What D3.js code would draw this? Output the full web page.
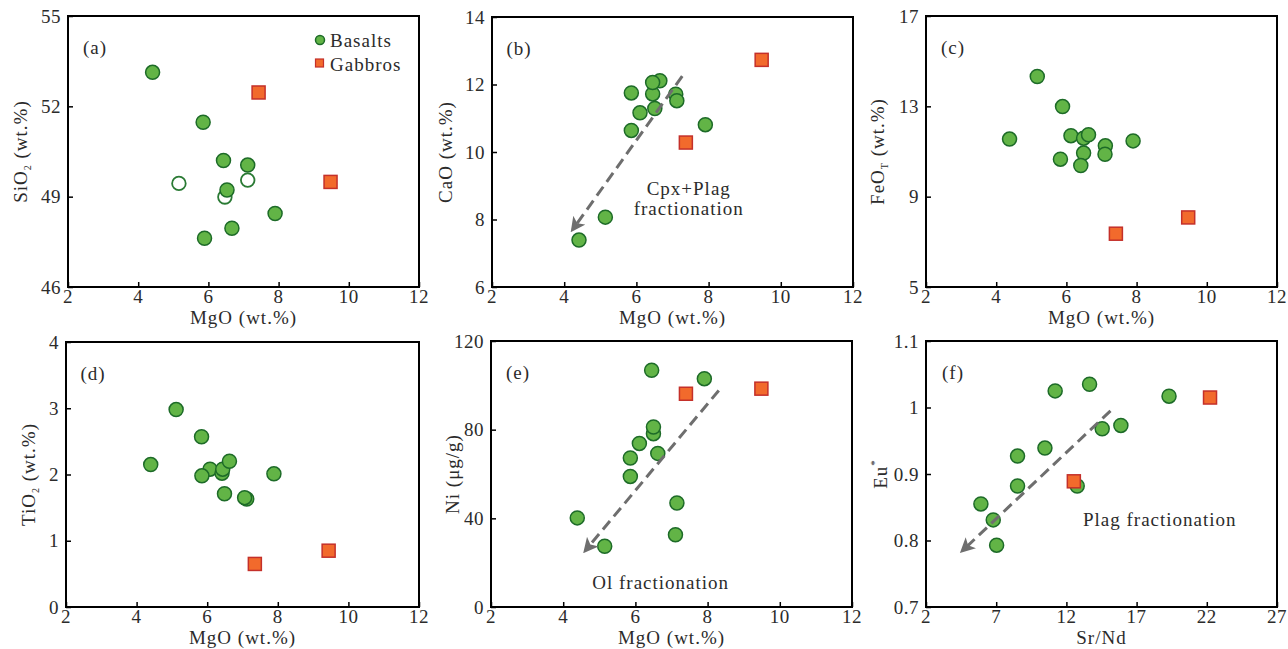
<!DOCTYPE html>
<html>
<head>
<meta charset="utf-8">
<script src="https://cdn.jsdelivr.net/npm/d3@7"></script>
<style>
  html, body { margin: 0; padding: 0; background: #fff; }
  svg { display: block; }
  text { font-family: "Liberation Serif", "Times New Roman", serif; fill: #2b2b2b; }
</style>
</head>
<body>
<svg id="chart" width="1288" height="649"></svg>
<script>
/* ── Data ─────────────────────────────────────────────────────── */
// (a) MgO vs SiO2
const basaltsA = [[4.41, 53.13], [5.85, 51.47], [6.43, 50.2], [7.12, 50.05], [6.53, 49.22],
                  [7.90, 48.44], [6.67, 47.95], [5.89, 47.62]];
const basaltsOpenA = [[5.16, 49.44], [6.47, 48.99], [7.12, 49.55]];
const gabbrosA = [[7.43, 52.46], [9.48, 49.49]];

// (b) MgO vs CaO
const basaltsB = [[4.41, 7.39], [5.14, 8.07], [5.86, 10.64], [6.10, 11.16], [5.86, 11.75],
                  [6.45, 11.72], [6.51, 11.29], [6.65, 12.11], [6.45, 12.06], [7.09, 11.71],
                  [7.12, 11.52], [7.91, 10.81]];
const gabbrosB = [[9.47, 12.73], [7.37, 10.28]];

// (c) MgO vs FeOT
const basaltsC = [[5.17, 14.32], [5.89, 12.99], [4.38, 11.55], [6.13, 11.70], [6.49, 11.59],
                  [6.63, 11.74], [7.90, 11.47], [7.11, 11.25], [7.10, 10.88], [6.49, 10.93],
                  [5.83, 10.66], [6.41, 10.38]];
const gabbrosC = [[7.41, 7.36], [9.47, 8.08]];

// (d) MgO vs TiO2
const basaltsD = [[5.12, 2.98], [5.84, 2.57], [4.40, 2.15], [6.08, 2.08], [5.85, 1.98],
                  [6.42, 2.02], [6.44, 2.08], [6.63, 2.20], [7.89, 2.01], [6.49, 1.71],
                  [7.12, 1.63], [7.06, 1.65]];
const gabbrosD = [[7.35, 0.65], [9.44, 0.85]];

// (e) MgO vs Ni
const basaltsE = [[6.45, 106.8], [7.91, 103.0], [6.50, 78.2], [6.50, 81.2], [6.11, 73.8],
                  [6.62, 69.3], [5.86, 67.2], [5.86, 58.9], [7.15, 46.9], [7.11, 32.6],
                  [4.39, 40.2], [5.15, 27.4]];
const gabbrosE = [[7.40, 96.2], [9.49, 98.5]];

// (f) Sr/Nd vs Eu*
const basaltsF = [[11.20, 1.025], [13.65, 1.035], [19.31, 1.017], [14.55, 0.968], [15.88, 0.973],
                  [10.47, 0.939], [8.52, 0.927], [8.52, 0.882], [12.77, 0.882], [5.91, 0.855],
                  [6.79, 0.831], [7.03, 0.793]];
const gabbrosF = [[12.53, 0.889], [22.23, 1.015]];

// axis ticks
const mgoTicks = [2, 4, 6, 8, 10, 12];
const srNdTicks = [2, 7, 12, 17, 22, 27];
const sio2Ticks = [46, 49, 52, 55];
const caoTicks = [6, 8, 10, 12, 14];
const feoTicks = [5, 9, 13, 17];
const tio2Ticks = [0, 1, 2, 3, 4];
const niTicks = [0, 40, 80, 120];
const euTicks = [0.7, 0.8, 0.9, 1, 1.1];

// fractionation trend arrows [from, to]
const arrowB = [[7.27, 12.25], [4.24, 7.71]];
const arrowE = [[8.31, 97.7], [4.62, 25.6]];
const arrowF = [[15.14, 0.995], [4.61, 0.785]];

/* ── Panel layout ─────────────────────────────────────────────── */
const panels = [
  { tag: '(a)', box: [68, 16, 351, 271], xDom: [2, 12], xTicks: mgoTicks, yDom: [46, 55], yTicks: sio2Ticks,
    xTitle: 'MgO (wt.%)', yTitle: [['SiO', ''], ['2', 'sub'], [' (wt.%)', '']], yOff: 48,
    basalts: basaltsA, open: basaltsOpenA, gabbros: gabbrosA, legend: true },
  { tag: '(b)', box: [492, 17, 361, 270], xDom: [2, 12], xTicks: mgoTicks, yDom: [6, 14], yTicks: caoTicks,
    xTitle: 'MgO (wt.%)', yTitle: [['CaO (wt.%)', '']], yOff: 47,
    basalts: basaltsB, gabbros: gabbrosB, arrow: arrowB,
    notes: [['Cpx+Plag', 7.45, 8.92], ['fractionation', 7.45, 8.33]] },
  { tag: '(c)', box: [926, 16, 351, 271], xDom: [2, 12], xTicks: mgoTicks, yDom: [5, 17], yTicks: feoTicks,
    xTitle: 'MgO (wt.%)', yTitle: [['FeO', ''], ['T', 'sub'], [' (wt.%)', '']], yOff: 49,
    basalts: basaltsC, gabbros: gabbrosC },
  { tag: '(d)', box: [66, 342, 353, 265], xDom: [2, 12], xTicks: mgoTicks, yDom: [0, 4], yTicks: tio2Ticks,
    xTitle: 'MgO (wt.%)', yTitle: [['TiO', ''], ['2', 'sub'], [' (wt.%)', '']], yOff: 38,
    basalts: basaltsD, gabbros: gabbrosD },
  { tag: '(e)', box: [491, 341, 361, 266], xDom: [2, 12], xTicks: mgoTicks, yDom: [0, 120], yTicks: niTicks,
    xTitle: 'MgO (wt.%)', yTitle: [['Ni (μg/g)', '']], yOff: 39,
    basalts: basaltsE, gabbros: gabbrosE, arrow: arrowE,
    notes: [['Ol fractionation', 6.70, 11.3]] },
  { tag: '(f)', box: [926, 341, 351, 266], xDom: [2, 27], xTicks: srNdTicks, yDom: [0.7, 1.1], yTicks: euTicks,
    xTitle: 'Sr/Nd', yTitle: [['Eu', ''], ['*', 'super']], yOff: 46,
    basalts: basaltsF, gabbros: gabbrosF, arrow: arrowF,
    notes: [['Plag fractionation', 18.65, 0.832]] },
];

const GREEN = '#62b446', GREEN_DK = '#1d6b28';
const ORANGE = '#f26a2c', ORANGE_DK = '#c4302a';
const FS = 19;

const svg = d3.select('#chart');

// arrowhead
svg.append('defs').append('marker')
  .attr('id', 'head')
  .attr('viewBox', '0 0 12 12')
  .attr('refX', 9).attr('refY', 6)
  .attr('markerWidth', 5).attr('markerHeight', 5)
  .attr('markerUnits', 'strokeWidth')
  .attr('orient', 'auto')
  .append('path')
  .attr('d', 'M0,0 L12,6 L0,12 L3,6 Z')
  .attr('fill', '#6e6e6e');

panels.forEach(p => {
  const [L, T, W, H] = p.box;
  const x = d3.scaleLinear().domain(p.xDom).range([L, L + W]);
  const y = d3.scaleLinear().domain(p.yDom).range([T + H, T]);
  const g = svg.append('g');

  // inward ticks via d3 axes
  g.append('g')
    .attr('transform', `translate(0,${T + H})`)
    .call(d3.axisTop(x).tickValues(p.xTicks).tickSize(5).tickFormat(''))
    .call(a => a.select('.domain').remove())
    .selectAll('line').attr('stroke', '#000').attr('stroke-width', 1.5);
  g.append('g')
    .attr('transform', `translate(${L},0)`)
    .call(d3.axisRight(y).tickValues(p.yTicks).tickSize(5).tickFormat(''))
    .call(a => a.select('.domain').remove())
    .selectAll('line').attr('stroke', '#000').attr('stroke-width', 1.5);

  // tick labels
  g.selectAll('.xl').data(p.xTicks).join('text')
    .attr('x', d => x(d)).attr('y', T + H + 16)
    .attr('text-anchor', 'middle')
    .attr('font-size', FS).attr('letter-spacing', 0.5)
    .text(d => d);
  g.selectAll('.yl').data(p.yTicks).join('text')
    .attr('x', L - 7).attr('y', d => y(d)).attr('dy', '0.35em')
    .attr('text-anchor', 'end')
    .attr('font-size', FS).attr('letter-spacing', 0.5)
    .text(d => d);

  // axis titles
  g.append('text')
    .attr('x', L + W / 2).attr('y', T + H + 37)
    .attr('text-anchor', 'middle')
    .attr('font-size', FS).attr('letter-spacing', 1)
    .text(p.xTitle);
  const yt = g.append('text')
    .attr('transform', `translate(${L - p.yOff},${T + H / 2}) rotate(-90)`)
    .attr('dy', '0.35em')
    .attr('text-anchor', 'middle')
    .attr('font-size', FS).attr('letter-spacing', 1);
  p.yTitle.forEach(([s, kind]) => {
    const ts = yt.append('tspan').text(s);
    if (kind === 'sub') ts.attr('font-size', 10).attr('dy', 4);
    else if (kind === 'super') ts.attr('font-size', 11).attr('dy', -9);
    else if (s.startsWith(' ')) ts.attr('dy', -4);
  });

  // panel tag
  g.append('text')
    .attr('x', L + 27).attr('y', T + 31).attr('dy', '0.35em')
    .attr('text-anchor', 'middle')
    .attr('font-size', FS).attr('letter-spacing', 1)
    .text(p.tag);

  // points
  if (p.open) {
    g.selectAll('.op').data(p.open).join('circle')
      .attr('cx', d => x(d[0])).attr('cy', d => y(d[1])).attr('r', 6.8)
      .attr('fill', '#fff').attr('stroke', '#2a7a34').attr('stroke-width', 1.8);
  }
  g.selectAll('.bs').data(p.basalts).join('circle')
    .attr('cx', d => x(d[0])).attr('cy', d => y(d[1])).attr('r', 7)
    .attr('fill', GREEN).attr('stroke', GREEN_DK).attr('stroke-width', 1.5);
  g.selectAll('.gb').data(p.gabbros).join('rect')
    .attr('x', d => x(d[0]) - 6.5).attr('y', d => y(d[1]) - 6.5)
    .attr('width', 13).attr('height', 13)
    .attr('fill', ORANGE).attr('stroke', ORANGE_DK).attr('stroke-width', 1.5);

  // trend arrow
  if (p.arrow) {
    g.append('line')
      .attr('x1', x(p.arrow[0][0])).attr('y1', y(p.arrow[0][1]))
      .attr('x2', x(p.arrow[1][0])).attr('y2', y(p.arrow[1][1]))
      .attr('stroke', '#6e6e6e').attr('stroke-width', 3)
      .attr('stroke-dasharray', '11,6')
      .attr('marker-end', 'url(#head)');
  }
  (p.notes || []).forEach(([s, nx, ny]) => {
    g.append('text')
      .attr('x', x(nx)).attr('y', y(ny)).attr('dy', '0.35em')
      .attr('text-anchor', 'middle')
      .attr('font-size', FS).attr('letter-spacing', 1)
      .text(s);
  });

  // frame
  g.append('rect')
    .attr('x', L).attr('y', T).attr('width', W).attr('height', H)
    .attr('fill', 'none').attr('stroke', '#000').attr('stroke-width', 2);

  // legend
  if (p.legend) {
    const lg = g.append('g');
    lg.append('circle').attr('cx', 320).attr('cy', 40).attr('r', 4.5)
      .attr('fill', GREEN).attr('stroke', GREEN_DK).attr('stroke-width', 1.5);
    lg.append('rect').attr('x', 315.5).attr('y', 59).attr('width', 8).attr('height', 8)
      .attr('fill', ORANGE).attr('stroke', ORANGE_DK).attr('stroke-width', 1.2);
    lg.append('text').attr('x', 330).attr('y', 40).attr('dy', '0.35em')
      .attr('font-size', FS).attr('letter-spacing', 1).text('Basalts');
    lg.append('text').attr('x', 330).attr('y', 64).attr('dy', '0.35em')
      .attr('font-size', FS).attr('letter-spacing', 1).text('Gabbros');
  }
});
</script>
</body>
</html>
